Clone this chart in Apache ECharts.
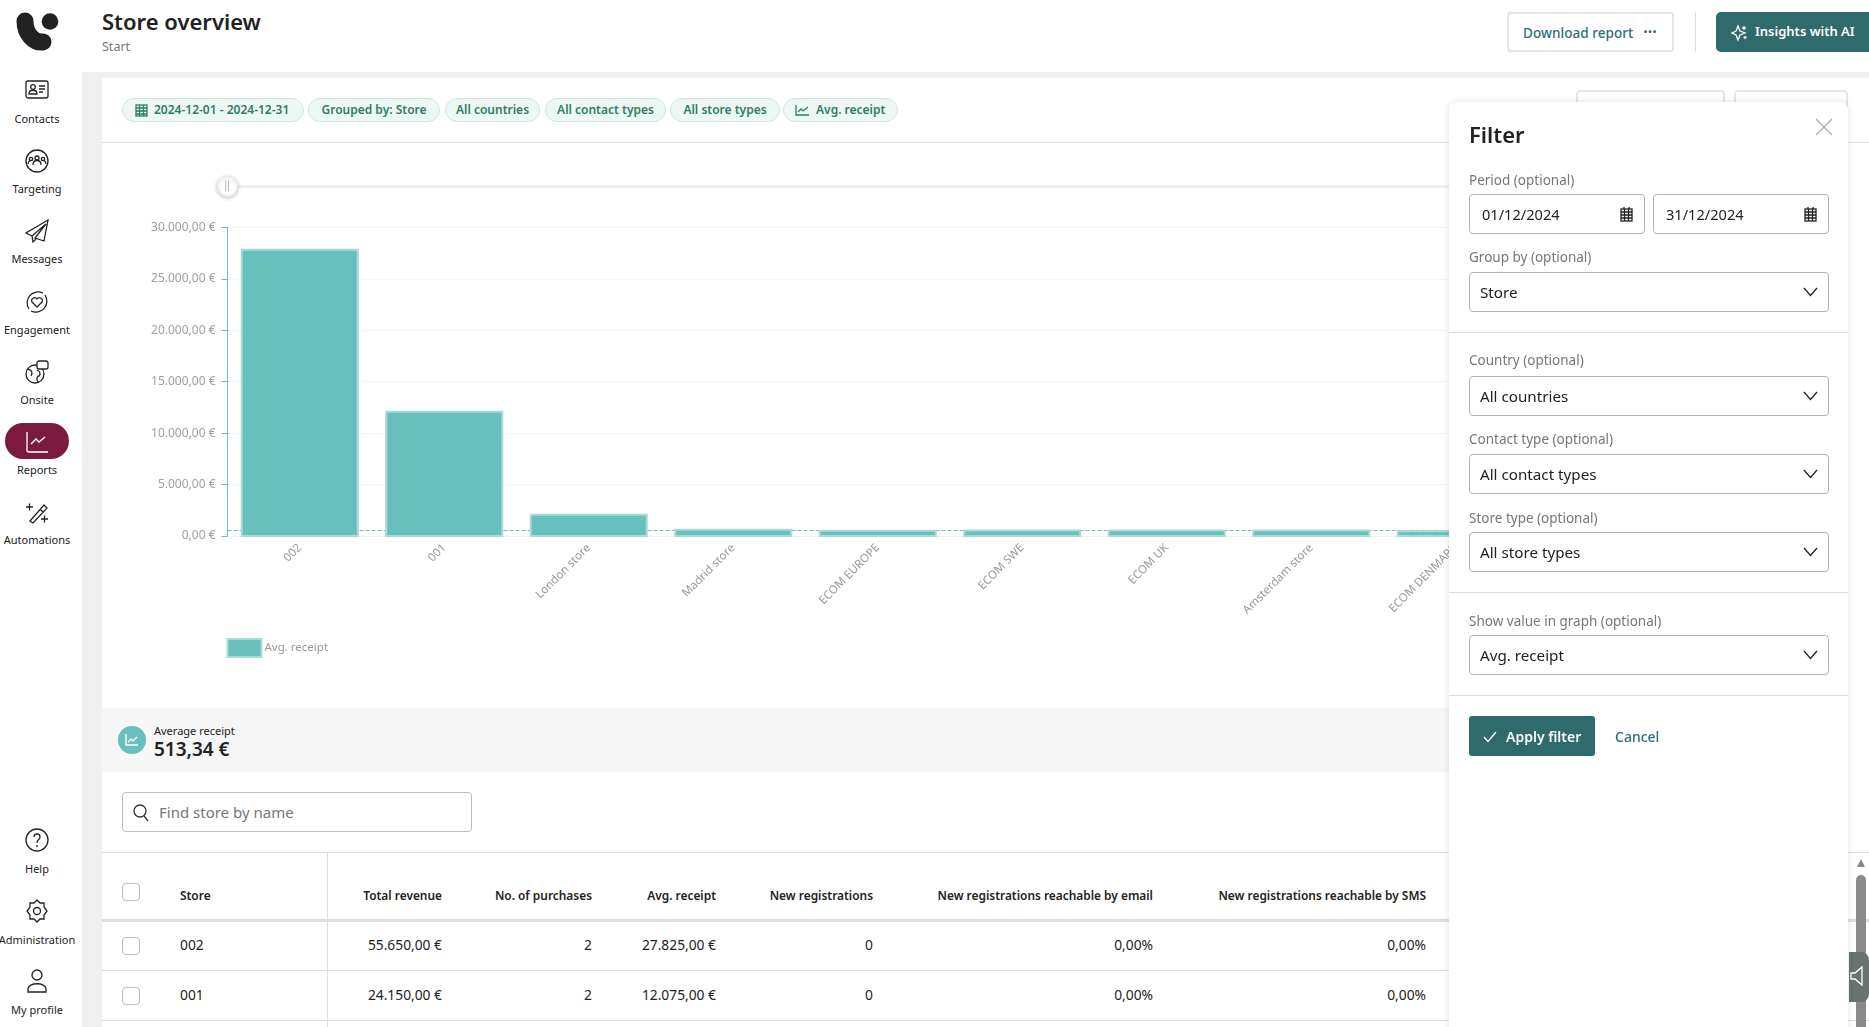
<!DOCTYPE html>
<html>
<head>
<meta charset="utf-8">
<title>Store overview</title>
<script src="https://cdn.jsdelivr.net/npm/echarts@6/dist/echarts.min.js"></script>
<style>
html, body { margin: 0; padding: 0; width: 1869px; height: 1027px; overflow: hidden; background: #fff; font-family: "Noto Sans", sans-serif; color: #222; }
#page { position: absolute; left: 0; top: 0; width: 1869px; height: 1027px; overflow: hidden; }
#page div { position: absolute; box-sizing: border-box; white-space: nowrap; }
#page svg { position: absolute; fill: none; stroke: #222; stroke-width: 1.3; overflow: visible; }
#chart { left: 102px; top: 143px; width: 1747px; height: 564px; z-index: 1; }
</style>
</head>
<body>
<div id="page"><div id="chart"></div></div>
<script>
// chart data
var categories = ['002', '001', 'London store', 'Madrid store', 'ECOM EUROPE', 'ECOM SWE', 'ECOM UK', 'Amsterdam store', 'ECOM DENMARK'];
var avgReceipt = [27825, 12075, 2070, 612, 520, 540, 540, 530, 450];
var averageLine = 513.34;
var yTickValues = [0, 5000, 10000, 15000, 20000, 25000, 30000];
var yTickLabels = ['0,00 €', '5.000,00 €', '10.000,00 €', '15.000,00 €', '20.000,00 €', '25.000,00 €', '30.000,00 €'];

// table data
var tableHeads = ['Total revenue', 'No. of purchases', 'Avg. receipt', 'New registrations', 'New registrations reachable by email', 'New registrations reachable by SMS'];
var tableRows = [
    ['002', '55.650,00 €', '2', '27.825,00 €', '0', '0,00%', '0,00%'],
    ['001', '24.150,00 €', '2', '12.075,00 €', '0', '0,00%', '0,00%']
];
var chips = ['2024-12-01 - 2024-12-31', 'Grouped by: Store', 'All countries', 'All contact types', 'All store types', 'Avg. receipt'];

var page = document.getElementById('page');
var teal = '#68c0bd';
var green = '#2e6b6a';

function box(x, y, w, h, css, html) {
    var d = document.createElement('div');
    d.style.cssText = 'left:' + x + 'px;top:' + y + 'px;width:' + w + 'px;height:' + h + 'px;' + (css || '');
    if (html) d.innerHTML = html;
    page.appendChild(d);
    return d;
}
// cy is the vertical centre of the text, align l / r / c
function txt(s, x, cy, size, color, weight, align, z) {
    var d = document.createElement('div');
    var tx = align == 'c' ? '-50%' : align == 'r' ? '-100%' : '0';
    d.style.cssText = 'left:' + x + 'px;top:' + cy + 'px;font-size:' + size + 'px;color:' + color + ';font-weight:' + (weight || 400) +
        ';transform:translate(' + tx + ',-50%);line-height:1.2;z-index:' + (z || 2);
    d.textContent = s;
    page.appendChild(d);
}
function icon(x, y, w, h, vb, body, z, stroke) {
    var d = box(x, y, w, h, 'z-index:' + (z || 2));
    d.innerHTML = '<svg width="' + w + '" height="' + h + '" viewBox="' + vb + '"' + (stroke ? ' style="stroke:' + stroke + '"' : '') + '>' + body + '</svg>';
}

// frame
box(82, 72, 1787, 6, 'background:#efefee');
box(82, 72, 20, 955, 'background:#efefee');
box(102, 142, 1767, 1, 'background:#dedede');

// logo
icon(16, 12, 44, 40, '0 0 44 40', '<circle cx="34" cy="9.5" r="8.3" fill="#222" stroke="none"/><path d="M9 9 C9 22 18 31 27 30" stroke-width="17" stroke-linecap="round"/>');

// title
txt('Store overview', 102, 21, 22, '#222', 600);
txt('Start', 102, 46, 12.5, '#777');

// top buttons
box(1507, 12, 167, 40, 'border:2px solid #dfe8e6;border-radius:4px');
txt('Download report', 1523, 32.5, 13.6, '#2e6f77', 500);
txt('···', 1650, 32, 16, '#2e6f77', 700, 'c');
box(1695, 12, 1, 40, 'background:#dedede');
box(1716, 12, 153, 40, 'background:' + green + ';border-radius:5px 0 0 5px');
icon(1732, 25, 15, 15, '0 0 15 15', '<path d="M6 1 L8 6 L13 8 L8 10 L6 15 L4 10 L0 8 L4 6 Z M12 1v4M10 3h4M13 11v3M11.500 12.500h3"/>', 2, '#fff');
txt('Insights with AI', 1755, 32, 13, '#fff', 600);

// sidebar
var navItems = [['Contacts', 90, 119], ['Targeting', 161, 189], ['Messages', 231, 259], ['Engagement', 302, 330], ['Onsite', 372, 400], ['Reports', 442, 470], ['Automations', 512, 540], ['Help', 840, 869], ['Administration', 911, 940], ['My profile', 981, 1010]];
var navIcons = {
    Contacts: '<rect x="1" y="3" width="22" height="17" rx="2"/><circle cx="8" cy="9" r="2.3"/><path d="M4 16c0-5 8-5 8 0zM14 8h6M14 11h6M14 14h4"/>',
    Targeting: '<circle cx="12" cy="12" r="11"/><circle cx="12" cy="9" r="2"/><circle cx="6" cy="10" r="1.7"/><circle cx="18" cy="10" r="1.7"/><path d="M8 16c0-6 8-6 8 0M3 15c0-4 4-4 4-3M21 15c0-4-4-4-4-3"/>',
    Messages: '<path d="M23 1 L1 14 L7 17 L21 5 L10 19 L19 22 Z M7 17 L8 23 L11 20"/>',
    Engagement: '<path d="M4 19a11 11 0 0 1 14-16M20 5a11 11 0 0 1-14 16"/><path d="M12 17l-5-5c-2-3 3-6 5-3 2-3 7 0 5 3z"/>',
    Onsite: '<circle cx="10" cy="14" r="9"/><path d="M3 9c4 1 5 4 3 7M12 10c3 1 4 4 2 6-2 0-3 3-1 6"/><rect x="12" y="1" width="11" height="8" rx="2" fill="#fff"/>',
    Reports: '<path d="M2 2v18a2 2 0 0 0 2 2h19M6 14l5-5 3 3 6-5"/>',
    Automations: '<path d="M5 21 L19 5 L22 8 L8 23 Z M15 9l3 3M1 7h7M4.500 3.500v7M16 19h7M19.500 15.500v7"/>',
    Help: '<circle cx="12" cy="12" r="11"/><path d="M9 9c0-4 6-4 6 0 0 3-3 2-3 6M12 17v2"/>',
    Administration: '<path d="M12 1l3 3h4v4l3 4-3 4v4h-4l-3 3-3-3H5v-4l-3-4 3-4V4h4z"/><circle cx="12" cy="12" r="3.500"/>',
    'My profile': '<circle cx="12" cy="6" r="5"/><path d="M3 23v-3c0-7 18-7 18 0v3z"/>'
};
box(5, 423, 64, 36, 'background:#7a1a3e;border-radius:18px');
navItems.forEach(function (n) {
    var active = n[0] == 'Reports';
    icon(25, n[1] - 12, 24, 24, '0 0 24 24', navIcons[n[0]], 3, active ? '#fff' : '#222');
    txt(n[0], 37, n[2], 11, '#222', 400, 'c');
});

// filter chips
var chipX = [[122, 304], [308, 440], [445, 540], [545, 666], [670, 780], [783, 898]];
chips.forEach(function (c, i) {
    box(chipX[i][0], 98, chipX[i][1] - chipX[i][0], 24, 'background:#edf7f4;border:1px solid #cfe6df;border-radius:12px');
    var pad = i == 0 ? 32 : i == 5 ? 33 : 0;
    if (pad) txt(c, chipX[i][0] + pad, 110, 12, '#2e7d66', 600);
    else txt(c, (chipX[i][0] + chipX[i][1]) / 2, 110, 12, '#2e7d66', 600, 'c');
});
icon(135, 103, 13, 14, '0 0 13 14', '<rect x="1" y="2" width="11" height="11"/><path d="M1 5h11M1 8h11M1 11h11M4.500 2v11M8.500 2v11"/>', 2, '#2e7d66');
icon(795, 104, 14, 12, '0 0 14 12', '<path d="M1 1v10h13M3 8l3-3 2 2 5-4"/>', 2, '#2e7d66');

// buttons behind the filter panel
box(1576, 90, 149, 30, 'border:2px solid #dfe8e6;border-radius:4px');
box(1734, 90, 114, 30, 'border:2px solid #dfe8e6;border-radius:4px');

// summary band
box(102, 708, 1400, 64, 'background:#f6f6f6');
box(118, 726, 28, 28, 'background:' + teal + ';border-radius:50%');
icon(125, 733, 14, 14, '0 0 14 14', '<path d="M1 1v11h12M3 9l3-3 2 2 4-4"/>', 3, '#fff');
txt('Average receipt', 154, 731, 11, '#222');
txt('513,34 €', 154, 748.5, 19, '#222', 600);

// search
box(122, 792, 350, 40, 'border:1px solid #bdbdbd;border-radius:4px');
icon(133, 804, 16, 17, '0 0 16 17', '<circle cx="7" cy="7" r="6"/><path d="M11 12l4 5"/>', 2, '#333');
txt('Find store by name', 159, 812, 15, '#777');

// table
var rightEdges = [442, 592, 716, 873, 1153, 1426];
[852, 970, 1020].forEach(function (y) { box(102, y, 1767, 1, 'background:#dedede'); });
box(102, 919, 1767, 3, 'background:#dedede');
box(327, 852, 1, 175, 'background:#dedede');
txt('Store', 180, 895, 11.9, '#222', 600);
tableHeads.forEach(function (h, i) { txt(h, rightEdges[i], 895, 11.9, '#222', 600, 'r'); });
[883, 937, 987].forEach(function (y) { box(122, y, 18, 18, 'border:1px solid #bdbdbd;border-radius:4px;background:#fff'); });
tableRows.forEach(function (row, r) {
    var cy = 945 + r * 50;
    txt(row[0], 180, cy, 13.8, '#222');
    rightEdges.forEach(function (x, i) { txt(row[i + 1], x, cy, 13.8, '#222', 400, 'r'); });
});

// filter panel
var fz = 6;
box(1449, 102, 399, 930, 'background:#fff;border-radius:8px 8px 0 0;box-shadow:0 0 7px rgba(0,0,0,.12);z-index:5');
txt('Filter', 1469, 134, 22, '#222', 600, 'l', fz);
icon(1816, 119, 16, 16, '0 0 16 16', '<path d="M0 0L16 16M16 0L0 16"/>', fz, '#aaa');
var fieldLabels = [['Period (optional)', 180], ['Group by (optional)', 257], ['Country (optional)', 360], ['Contact type (optional)', 439], ['Store type (optional)', 518], ['Show value in graph (optional)', 621]];
fieldLabels.forEach(function (f) { txt(f[0], 1469, f[1], 13.5, '#777', 400, 'l', fz); });
var inputStyle = 'border:1px solid #b5b5b5;border-radius:4px;background:#fff;z-index:' + fz;
var dates = [['01/12/2024', 1469], ['31/12/2024', 1653]];
var calIcon = '<rect x="1" y="2" width="11" height="12"/><path d="M1 5h11M1 8h11M1 11h11M4.500 2v12M8.500 2v12M4 0v2M9 0v2"/>';
dates.forEach(function (d) {
    box(d[1], 194, 176, 40, inputStyle);
    txt(d[0], d[1] + 13, 215, 14.6, '#222', 400, 'l', fz);
    icon(d[1] + 151, 207, 13, 14, '0 0 13 14', calIcon, fz);
});
var selects = [['Store', 272], ['All countries', 376], ['All contact types', 454], ['All store types', 532], ['Avg. receipt', 635]];
selects.forEach(function (s) {
    box(1469, s[1], 360, 40, inputStyle);
    txt(s[0], 1480, s[1] + 19.5, 15.2, '#222', 400, 'l', fz);
    icon(1804, s[1] + 16, 13, 8, '0 0 13 8', '<path d="M0 0L6.500 7.500L13 0"/>', fz);
});
[332, 592, 695].forEach(function (y) { box(1449, y, 399, 1, 'background:#dedede;z-index:' + fz); });
box(1469, 716, 126, 40, 'background:' + green + ';border-radius:3px;z-index:' + fz);
icon(1484, 732, 12, 10, '0 0 12 10', '<path d="M0 5L4 9.500L12 0"/>', fz, '#fff');
txt('Apply filter', 1506, 737, 14, '#fff', 600, 'l', fz);
txt('Cancel', 1615, 737, 14, '#2e6f77', 500, 'l', fz);

// right edge: scrollbar and feedback tab
icon(1857, 859, 8, 8, '0 0 8 8', '<path d="M4 0L8 8H0Z" fill="#888" stroke="none"/>', 3);
box(1856, 875, 10, 152, 'background:#8a8a8a;border-radius:5px 5px 0 0;z-index:3');
box(1849, 952, 20, 50, 'background:#69746f;border-radius:0 8px 8px 0;z-index:4');
icon(1850, 965, 16, 22, '0 0 16 22', '<path d="M1 8h4l7-6v18l-7-6H1z"/>', 4, '#fff');

// chart
var myChart = echarts.init(document.getElementById('chart'));

// the border of the bars sits outside the value, so they are drawn from the axes here
function renderBar(params, api) {
    var top = api.coord([api.value(0), api.value(1)]);
    var base = api.coord([api.value(0), 0]);
    var w = api.size([1, 0])[0] * 0.803;
    return {
        type: 'rect',
        shape: { x: top[0] - w / 2, y: top[1], width: w, height: base[1] - top[1] },
        style: { fill: teal, stroke: '#a8dad7', lineWidth: 2 }
    };
}

var option = {
    animation: false,
    textStyle: { fontFamily: '"Noto Sans", sans-serif' },
    grid: { left: 125.5, top: 84.4, width: 1300.5, height: 308.6 },
    legend: {
        left: 124.5,
        top: 495,
        padding: 0,
        data: ['Avg. receipt'],
        icon: 'rect',
        itemWidth: 34,
        itemHeight: 18,
        itemGap: 4,
        textStyle: { color: '#999', fontSize: 11.5, padding: [0, 0, 0, -2] }
    },
    dataZoom: [{
        type: 'slider',
        xAxisIndex: 0,
        filterMode: 'none',
        left: 123,
        width: 1303,
        top: 42,
        height: 3,
        start: 0,
        end: 100,
        showDetail: false,
        showDataShadow: false,
        brushSelect: false,
        moveHandleSize: 0,
        borderColor: 'transparent',
        backgroundColor: '#f0f0f0',
        fillerColor: '#f0f0f0',
        handleIcon: 'circle',
        handleSize: 20,
        handleStyle: { color: '#fff', borderColor: '#e8e8e8', shadowBlur: 4, shadowColor: 'rgba(0,0,0,.25)', shadowOffsetY: 1 }
    }],
    graphic: [
        { type: 'rect', left: 123.2, top: 37.5, z: 100, shape: { width: 1, height: 11 }, style: { fill: '#bbb' } },
        { type: 'rect', left: 126, top: 37.5, z: 100, shape: { width: 1, height: 11 }, style: { fill: '#bbb' } }
    ],
    xAxis: {
        type: 'category',
        data: categories,
        axisLine: { lineStyle: { color: '#f0f0f0' } },
        axisTick: { show: false },
        axisLabel: { rotate: 45, color: '#999', fontSize: 11.5, margin: 10, interval: 0 }
    },
    yAxis: {
        type: 'value',
        min: 0,
        max: 30000,
        interval: 5000,
        axisLine: { show: true, lineStyle: { color: teal } },
        axisTick: { show: true, length: 6, lineStyle: { color: teal } },
        axisLabel: {
            color: '#a0a0a0',
            fontSize: 12,
            margin: 12,
            padding: [3, 0, 0, 0],
            formatter: function (v) { return yTickLabels[yTickValues.indexOf(v)]; }
        },
        splitLine: { lineStyle: { color: '#f3f3f3' } }
    },
    series: [{
        name: 'Avg. receipt',
        type: 'custom',
        renderItem: renderBar,
        encode: { x: 0, y: 1 },
        data: avgReceipt.map(function (v, i) { return [i, v]; }),
        itemStyle: { color: teal, borderColor: '#a8dad7', borderWidth: 2 },
        markLine: {
            z: 1,
            silent: true,
            symbol: 'none',
            label: { show: false },
            lineStyle: { color: teal, type: 'dashed', width: 1 },
            data: [{ yAxis: averageLine }]
        }
    }]
};
myChart.setOption(option, true);
</script>
</body>
</html>
